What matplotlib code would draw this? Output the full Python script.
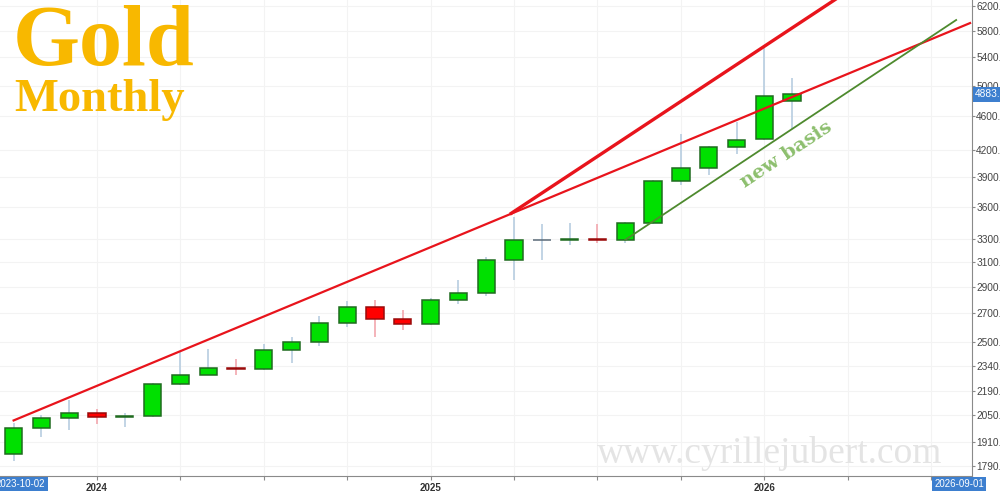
import matplotlib
matplotlib.use("Agg")
import matplotlib.pyplot as plt
from matplotlib.ticker import FixedLocator, NullLocator

# monthly candles, Oct 2023 -> Feb 2026
months = ['2023-10', '2023-11', '2023-12', '2024-01', '2024-02', '2024-03', '2024-04',
          '2024-05', '2024-06', '2024-07', '2024-08', '2024-09', '2024-10', '2024-11',
          '2024-12', '2025-01', '2025-02', '2025-03', '2025-04', '2025-05', '2025-06',
          '2025-07', '2025-08', '2025-09', '2025-10', '2025-11', '2025-12', '2026-01',
          '2026-02']
opens = [1848, 1983, 2036, 2063, 2039, 2044, 2229, 2286, 2327, 2326, 2447, 2503, 2634, 2744,
         2657, 2624, 2798, 2857, 3124, 3289, 3289, 3303, 3290, 3448, 3858, 4003, 4229, 4330,
         4795]
highs = [2009, 2052, 2135, 2088, 2065, 2236, 2431, 2450, 2387, 2483, 2531, 2685, 2790, 2801,
         2726, 2817, 2956, 3148, 3500, 3435, 3452, 3439, 3453, 3870, 4381, 4245, 4530, 5560,
         5100]
lows = [1810, 1931, 1973, 2002, 1984, 2041, 2228, 2285, 2286, 2320, 2364, 2471, 2603, 2536,
        2583, 2614, 2772, 2832, 2957, 3121, 3247, 3268, 3268, 3436, 3822, 3930, 4160, 4310,
        4440]
closes = [1983, 2036, 2063, 2039, 2044, 2230, 2286, 2327, 2326, 2447, 2503, 2634, 2744, 2657,
          2624, 2798, 2857, 3124, 3289, 3289, 3303, 3290, 3448, 3858, 4003, 4239, 4318, 4862,
          4883]
last_price = 4883

# trend lines (month index, price)
trend_long_x = [0, 34.4]
trend_long_y = [2022, 5920]
trend_steep_x = [17.9, 31]
trend_steep_y = [3540, 6780]
basis_x = [22, 33.9]
basis_y = [3295, 5969]

y_ticks = [1790, 1910, 2050, 2190, 2340, 2500, 2700, 2900, 3100, 3300, 3600, 3900, 4200,
           4600, 5000, 5400, 5800, 6200]
year_pos = [3, 15, 27]
year_labels = ['2024', '2025', '2026']

fig = plt.figure(figsize=(10, 4.93), dpi=100)
ax = fig.add_axes([0, 17 / 493, 0.972, 476 / 493])
ax.set_yscale('log')
ax.set_xlim(-0.49, 34.47)
ax.set_ylim(1740, 6301)

# grid
for t in y_ticks:
    ax.axhline(t, color='#f3f3f3', lw=0.8, zorder=0)
for m in range(3, 35, 3):
    ax.axvline(m, color='#f3f3f3', lw=0.8, zorder=0)

# candles
for i in range(len(months)):
    o, h, l, c = opens[i], highs[i], lows[i], closes[i]
    if c > o:
        fc, ec, wc = '#00e000', '#1f6b1f', '#b7cde0'
    elif c < o:
        fc, ec, wc = '#ff0000', '#9a0a0a', '#f2a7ae'
    else:
        fc, ec, wc = '#5a6a78', '#5a6a78', '#b7cde0'
    ax.vlines(i, l, h, color=wc, lw=1.2, zorder=2)
    ax.bar(i, abs(c - o), bottom=min(o, c), width=0.62, color=fc, edgecolor=ec,
           linewidth=1.1, zorder=3)

# trend lines
ax.plot(trend_long_x, trend_long_y, color='#e8141c', lw=1.6, zorder=4)
ax.plot(trend_steep_x, trend_steep_y, color='#e8141c', lw=2.4, zorder=4)
ax.plot(basis_x, basis_y, color='#4e8a2e', lw=1.3, zorder=4)
ax.text(27.8, 4150, 'new basis', rotation=33.5, rotation_mode='anchor', ha='center',
        va='center', color='#8dbf6e', fontsize=14, fontweight='bold', family='DejaVu Serif',
        zorder=5)

# axes styling
for s in ['top', 'left']:
    ax.spines[s].set_visible(False)
ax.spines['right'].set_color('#8a8a8a')
ax.spines['bottom'].set_color('#8a8a8a')
ax.yaxis.tick_right()
ax.yaxis.set_major_locator(FixedLocator(y_ticks))
ax.yaxis.set_minor_locator(NullLocator())
ax.set_yticklabels([f'{t}.' for t in y_ticks], fontsize=7.3, color='#444444',
                   family='Liberation Sans')
ax.tick_params(axis='y', length=2, color='#8a8a8a', pad=1)
ax.xaxis.set_major_locator(FixedLocator(list(range(3, 35, 3))))
ax.set_xticklabels([year_labels[year_pos.index(m)] if m in year_pos else ''
                    for m in range(3, 35, 3)], fontsize=7, fontweight='bold',
                   color='#333333', family='Liberation Sans')
ax.tick_params(axis='x', length=3, color='#8a8a8a', pad=2)

# highlighted boxes
box = dict(boxstyle='square,pad=0.22', fc='#3d7fcf', ec='none')
ax.text(1.003, last_price, f'{last_price}.', transform=ax.get_yaxis_transform(), ha='left',
        va='center', color='white', fontsize=7.3, family='Liberation Sans', bbox=box,
        zorder=10, clip_on=False)
fig.text(-0.004, 0.018, '2023-10-02', ha='left', va='center', color='white', fontsize=7,
         family='Liberation Sans', bbox=box)
fig.text(0.959, 0.018, '2026-09-01', ha='center', va='center', color='white', fontsize=7,
         family='Liberation Sans', bbox=box)

# titles and watermark
fig.text(0.013, 1 - 65 / 493, 'Gold', color='#f8b800', fontsize=62, fontweight='bold',
         family='Liberation Serif', va='baseline', ha='left')
fig.text(0.014, 1 - 111 / 493, 'Monthly', color='#f8b800', fontsize=33.5, fontweight='bold',
         family='Liberation Serif', va='baseline', ha='left')
fig.text(0.770, 1 - 463 / 493, 'www.cyrillejubert.com', color='#e4e4e4', fontsize=27,
         family='Liberation Serif', va='baseline', ha='center', zorder=0)

fig.savefig('out.png', dpi=100)
